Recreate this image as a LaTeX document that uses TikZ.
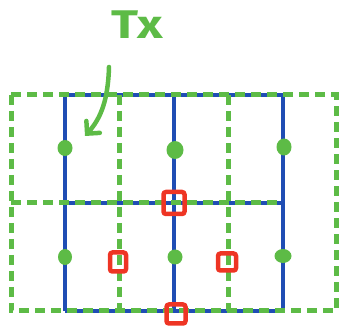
\documentclass[tikz,border=0pt]{standalone}
\usepackage{fontspec}
\newfontfamily\handfont{Fira Sans}
\usetikzlibrary{arrows.meta,shapes.geometric}
\definecolor{wireblue}{HTML}{1F4DB4}
\definecolor{sketchgreen}{HTML}{5DBB46}
\definecolor{markred}{HTML}{EE3524}
\begin{document}
\begin{tikzpicture}[x=1pt,y=-1pt,
  bluewire/.style={draw=wireblue, line width=4.5pt},
  greendash/.style={draw=sketchgreen, line width=5pt, dash pattern=on 10pt off 6pt},
  feed/.style={ellipse, fill=sketchgreen, draw=none, inner sep=0pt, minimum width=15pt, minimum height=16pt},
  cellmark/.style={rectangle, draw=markred, line width=4.5pt, rounded corners=2.5pt, inner sep=0pt},
  pointer/.style={draw=sketchgreen, line width=4.5pt, line cap=round, line join=round,
    -{Straight Barb[length=9pt, width=18pt, line cap=round]}}]
\useasboundingbox (0,0) rectangle (340,328);

% blue wire grid
\coordinate (b11) at (65,95);  \coordinate (b12) at (174,95);  \coordinate (b13) at (283,95);
\coordinate (b21) at (65,203); \coordinate (b22) at (174,203); \coordinate (b23) at (283,203);
\coordinate (b31) at (65,311); \coordinate (b32) at (174,311); \coordinate (b33) at (283,311);
\draw[bluewire] (b11) -- (b31);
\draw[bluewire] (b12) -- (b32);
\draw[bluewire] (b13) -- (b33);
\draw[bluewire] (b11) -- (b13);
\draw[bluewire] (b21) -- (b23);
\draw[bluewire] (b31) -- (b33);

% green dashed cells
\coordinate (g1) at (11,95);  \coordinate (g2) at (336,95);
\coordinate (g3) at (336,311); \coordinate (g4) at (11,311);
\draw[greendash] (g1) rectangle (g3);
\draw[greendash] (11,203) -- (283,203);
\draw[greendash] (119,95) -- (119,311);
\draw[greendash] (228,95) -- (228,311);

% feed points
\node[feed] (f1) at (65,148) {};
\node[feed, minimum width=17pt, minimum height=18pt] (f2) at (175,150) {};
\node[feed, minimum height=17pt] (f3) at (284,147) {};
\node[feed, minimum width=14pt] (f4) at (65,257) {};
\node[feed, minimum width=15pt, minimum height=15pt] (f5) at (175,257) {};
\node[feed, minimum width=17pt, minimum height=14pt] (f6) at (283,256) {};

% red cell marks
\node[cellmark, minimum width=21pt, minimum height=22pt] (r1) at (174,203) {};
\node[cellmark, minimum width=16pt, minimum height=19pt] (r2) at (118,262) {};
\node[cellmark, minimum width=18pt, minimum height=17pt] (r3) at (227,262) {};
\node[cellmark, minimum width=19pt, minimum height=19pt] (r4) at (176,314) {};

% transmitter label and pointer
\node[text=sketchgreen, font=\handfont\bfseries\fontsize{40}{40}\selectfont, anchor=base west, inner sep=0pt] (tx) at (111,39) {\scalebox{1.25}[1]{T\kern-1pt x}};
\coordinate (ptip) at (85,136);
\draw[pointer] (109,67) .. controls (108,100) and (101,118) .. (ptip);
\end{tikzpicture}
\end{document}
